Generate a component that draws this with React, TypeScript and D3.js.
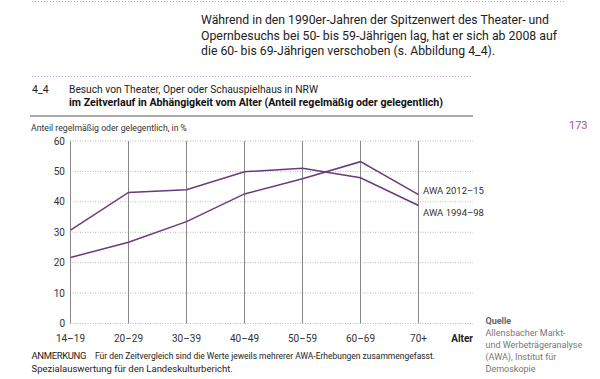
import React from "react";
import * as d3 from "d3";

const categories = ["14–19", "20–29", "30–39", "40–49", "50–59", "60–69", "70+"];
const series1994 = [30.7, 43.1, 44.0, 49.9, 51.0, 47.9, 38.8];
const series2012 = [21.7, 26.7, 33.5, 42.6, 47.6, 53.2, 42.4];
const seriesNames = ["AWA 2012–15", "AWA 1994–98"];
const yTicks = [0, 10, 20, 30, 40, 50, 60];

const paragraph = [
  "Während in den 1990er-Jahren der Spitzenwert des Theater- und",
  "Opernbesuchs bei 50- bis 59-Jährigen lag, hat er sich ab 2008 auf",
  "die 60- bis 69-Jährigen verschoben (s. Abbildung 4_4).",
];
const paragraphWidths = [348, 356, 294];
const sourceLines = ["Allensbacher Markt-", "und Werbeträgeranalyse", "(AWA), Institut für", "Demoskopie"];

const FONT = "Roboto, 'Noto Sans', sans-serif";
const PURPLE = "#6b3a7c";

export default function App() {
  const x = d3.scalePoint<string>().domain(categories).range([70.5, 418.5]);
  const y = d3.scaleLinear().domain([0, 60]).range([323.5, 141]);
  const line = d3
    .line<number>()
    .x((_, i) => x(categories[i]) as number)
    .y((d) => y(d));

  return (
    <svg
      width={600}
      height={379}
      style={{ position: "absolute", left: 0, top: 0, background: "#fff" }}
      fontFamily={FONT}
    >
      {/* top dotted rule */}
      <line x1={32} x2={565} y1={1.5} y2={1.5} stroke="#c9a3d3" strokeWidth={1} strokeDasharray="1,2" />
      {paragraph.map((t, i) => (
        <text
          key={i}
          x={201}
          y={24 + i * 15.5}
          fontSize={13.5}
          fill="#222"
          textLength={paragraphWidths[i]}
          lengthAdjust="spacingAndGlyphs"
        >
          {t}
        </text>
      ))}
      {/* second dotted rule */}
      <line x1={32} x2={473} y1={76.5} y2={76.5} stroke="#c9a3d3" strokeWidth={1} strokeDasharray="1,2" />
      <text x={32} y={93} fontSize={10.5} fill="#222">4_4</text>
      <text x={69} y={93} fontSize={10.5} fill="#222" textLength={249} lengthAdjust="spacingAndGlyphs">
        Besuch von Theater, Oper oder Schauspielhaus in NRW
      </text>
      <text x={69} y={106} fontSize={10.5} fontWeight="bold" fill="#111" textLength={374} lengthAdjust="spacingAndGlyphs">
        im Zeitverlauf in Abhängigkeit vom Alter (Anteil regelmäßig oder gelegentlich)
      </text>
      <line x1={30} x2={473} y1={116} y2={116} stroke="#aaa" strokeWidth={2} />
      <text x={31} y={131} fontSize={9.5} fill="#333" textLength={156} lengthAdjust="spacingAndGlyphs">
        Anteil regelmäßig oder gelegentlich, in %
      </text>
      <text x={569} y={129} fontSize={11} fill="#9b55a8">173</text>

      {/* horizontal dotted gridlines */}
      {yTicks.map((t) => (
        <g key={t}>
          <line x1={70} x2={473} y1={y(t)} y2={y(t)} stroke="#bbb" strokeWidth={1} strokeDasharray="1,1.5" />
          <text x={65} y={y(t) + 3.5} fontSize={10} fill="#333" textAnchor="end">
            {t}
          </text>
        </g>
      ))}
      {/* vertical gridlines */}
      {categories.map((c) => (
        <g key={c}>
          <line x1={x(c)} x2={x(c)} y1={y(60)} y2={y(0)} stroke="#888" strokeWidth={1} />
          <text x={x(c)} y={341.5} fontSize={10} fill="#333" textAnchor="middle">
            {c}
          </text>
        </g>
      ))}
      <text x={473} y={341.5} fontSize={10} fontWeight="bold" fill="#222" textAnchor="end">Alter</text>

      {/* data lines */}
      <path d={line(series1994) || ""} fill="none" stroke={PURPLE} strokeWidth={1.5} />
      <path d={line(series2012) || ""} fill="none" stroke={PURPLE} strokeWidth={1.5} />
      <text x={423} y={y(series2012[6]) - 0.5} fontSize={9.5} fill="#333">
        {seriesNames[0]}
      </text>
      <text x={423} y={y(series1994[6]) + 11} fontSize={9.5} fill="#333">
        {seriesNames[1]}
      </text>

      {/* note */}
      <text x={31.5} y={358.5} fontSize={9.5} fill="#222" textLength={55} lengthAdjust="spacing">
        ANMERKUNG
      </text>
      <text x={95} y={358.5} fontSize={9.5} fill="#222" textLength={340} lengthAdjust="spacingAndGlyphs">
        Für den Zeitvergleich sind die Werte jeweils mehrerer AWA-Erhebungen zusammengefasst.
      </text>
      <text x={31.5} y={371.5} fontSize={9.5} fill="#222">
        Spezialauswertung für den Landeskulturbericht.
      </text>

      {/* source */}
      <text x={485.5} y={324} fontSize={9} fontWeight="bold" fill="#666">Quelle</text>
      {sourceLines.map((t, i) => (
        <text key={t} x={485.5} y={336 + i * 12} fontSize={9} fill="#777">
          {t}
        </text>
      ))}
    </svg>
  );
}
